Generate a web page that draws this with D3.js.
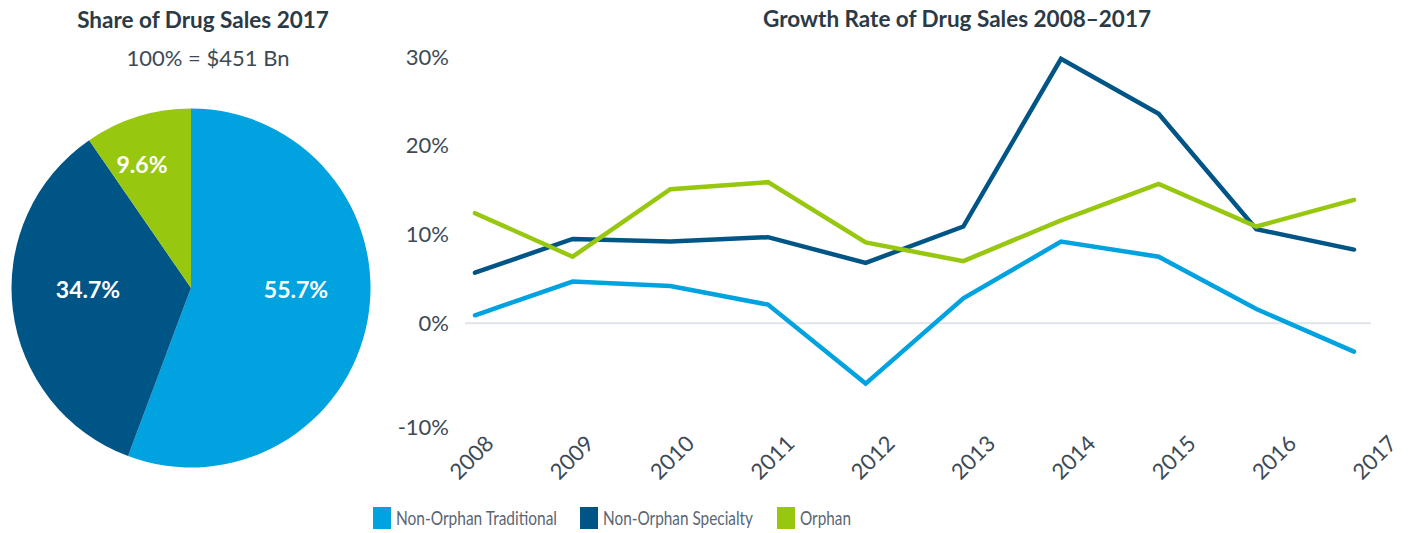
<!DOCTYPE html>
<html>
<head>
<meta charset="utf-8">
<script src="https://cdn.jsdelivr.net/npm/d3@7"></script>
<style>
  body { margin: 0; background: #fff; }
  svg text { font-family: Lato, "Open Sans", sans-serif; }
</style>
</head>
<body>
<div id="chart"></div>
<script>
const width = 1415;
const height = 533;

// Data
const seriesNames = ["Non-Orphan Traditional", "Non-Orphan Specialty", "Orphan"];
const seriesColors = ["#00a3e0", "#005587", "#97c80f"];
const shares2017 = [55.7, 34.7, 9.6];
const years = ["2008", "2009", "2010", "2011", "2012", "2013", "2014", "2015", "2016", "2017"];
const traditional = [0.9, 4.7, 4.2, 2.1, -6.8, 2.8, 9.2, 7.5, 1.6, -3.2];
const specialty = [5.7, 9.5, 9.2, 9.7, 6.8, 10.9, 29.8, 23.6, 10.6, 8.3];
const orphan = [12.4, 7.5, 15.1, 15.9, 9.1, 7.0, 11.6, 15.7, 10.9, 13.9];
const yTicks = [-10, 0, 10, 20, 30];

const svg = d3.select("#chart")
    .append("svg")
    .attr("width", width)
    .attr("height", height);

const titleColor = "#2b3a45";
const labelColor = "#3d4a55";

// ---- Pie ----
svg.append("text")
    .attr("x", 203).attr("y", 28)
    .attr("text-anchor", "middle")
    .style("font-size", "22.5px").style("font-weight", "bold")
    .attr("fill", titleColor)
    .text("Share of Drug Sales 2017");

svg.append("text")
    .attr("x", 208).attr("y", 66)
    .attr("text-anchor", "middle")
    .style("font-size", "22px")
    .attr("fill", labelColor)
    .text("100% = $451 Bn");

const pieG = svg.append("g").attr("transform", "translate(191,288)");
const radius = 179.5;
const pie = d3.pie().sort(null).value(d => d);
const arc = d3.arc().innerRadius(0).outerRadius(radius);
const arcs = pie(shares2017);

pieG.selectAll("path")
    .data(arcs)
    .enter()
    .append("path")
    .attr("d", arc)
    .attr("fill", (d, i) => seriesColors[i]);

// label offsets from the pie centre
const labelPos = [[105, 2], [-103, 2], [-49, -123]];
pieG.selectAll(".pie-label")
    .data(arcs)
    .enter()
    .append("text")
    .attr("class", "pie-label")
    .attr("transform", (d, i) => `translate(${labelPos[i]})`)
    .attr("text-anchor", "middle")
    .attr("dy", "0.35em")
    .style("font-size", "23px").style("font-weight", "bold")
    .attr("fill", "#fff")
    .text(d => d.data.toFixed(1) + "%");

// ---- Line chart ----
svg.append("text")
    .attr("x", 957).attr("y", 27)
    .attr("text-anchor", "middle")
    .style("font-size", "22.5px").style("font-weight", "bold")
    .attr("fill", titleColor)
    .text("Growth Rate of Drug Sales 2008\u20132017");

const x = d3.scalePoint().domain(years).range([475, 1354]);
const y = d3.scaleLinear().domain([-10, 30]).range([412, 57]);
const xLabel = d3.scalePoint().domain(years).range([495, 1398]);

// zero line
svg.append("line")
    .attr("x1", 465).attr("x2", 1371)
    .attr("y1", y(0)).attr("y2", y(0))
    .attr("stroke", "#e1e5e9")
    .attr("stroke-width", 2);

// y labels
svg.selectAll(".ytick")
    .data(yTicks)
    .enter()
    .append("text")
    .attr("class", "ytick")
    .attr("x", 449)
    .attr("y", d => d === -10 ? y(d) + 15 : y(d))
    .attr("dy", "0.35em")
    .attr("text-anchor", "end")
    .style("font-size", "22px")
    .attr("fill", labelColor)
    .text(d => d + "%");

// x labels
svg.selectAll(".xtick")
    .data(years)
    .enter()
    .append("text")
    .attr("class", "xtick")
    .attr("transform", d => `translate(${xLabel(d)},${445}) rotate(-45)`)
    .attr("text-anchor", "end")
    .style("font-size", "22px")
    .attr("fill", labelColor)
    .text(d => d);

const line = d3.line()
    .x((d, i) => x(years[i]))
    .y(d => y(d));

const allSeries = [traditional, specialty, orphan];
svg.selectAll(".series")
    .data(allSeries)
    .enter()
    .append("path")
    .attr("class", "series")
    .attr("d", line)
    .attr("fill", "none")
    .attr("stroke", (d, i) => seriesColors[i])
    .attr("stroke-width", 4.5)
    .attr("stroke-linejoin", "miter")
    .attr("stroke-linecap", "round");

// legend
const legendX = [373, 580, 777];
const legendW = [161, 150, 51];
const legend = svg.selectAll(".legend")
    .data(seriesNames)
    .enter()
    .append("g")
    .attr("class", "legend")
    .attr("transform", (d, i) => `translate(${legendX[i]},507)`);

legend.append("rect")
    .attr("width", 18).attr("height", 22)
    .attr("fill", (d, i) => seriesColors[i]);

legend.append("text")
    .attr("x", 23).attr("y", 18)
    .style("font-size", "19px")
    .attr("textLength", (d, i) => legendW[i])
    .attr("lengthAdjust", "spacingAndGlyphs")
    .attr("fill", "#5b6673")
    .text(d => d);
</script>
</body>
</html>
